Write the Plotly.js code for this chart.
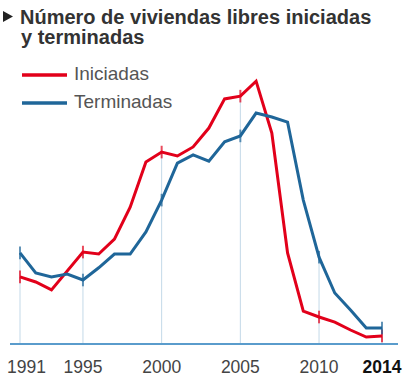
<!DOCTYPE html>
<html><head><meta charset="utf-8">
<script src="https://cdn.plot.ly/plotly-3.0.1.min.js"></script>
<style>html,body{margin:0;padding:0;background:#fff}#chart{width:414px;height:388px}</style>
</head><body><div id="chart"></div>
<script>
// Data (miles de viviendas)
const years = [1991,1992,1993,1994,1995,1996,1997,1998,1999,2000,2001,2002,2003,2004,2005,2006,2007,2008,2009,2010,2011,2012,2013,2014];
const iniciadas = [168,155,135,183,231,226,264,345,460,485,475,498,546,620,627,665,533,229,81,66,53,33,15,18];
const terminadas = [229,178,168,175,160,191,226,226,282,363,457,478,462,511,526,584,574,561,363,218,127,84,38,38];
const tickYears = [1991,1995,2000,2005,2010,2014];
const tickLabels = ['1991','1995','2000','2005','2010','2014'];
const titleLines = ['Número de viviendas libres iniciadas','y terminadas'];
const seriesNames = ['Iniciadas','Terminadas'];

const RED = '#e2001a', BLUE = '#1f6699', DROP = '#c3d9e8';
const W = 414, H = 388, M = {l:10, r:16, t:60, b:45};
const plotW = W - M.l - M.r, plotH = H - M.t - M.b;
const PX = px => (px - M.l) / plotW;
const PY = py => (H - M.b - py) / plotH;

// drop lines from baseline to the higher of the two series at labelled years
const dropX = [], dropY = [];
tickYears.forEach(yr => {
  const i = years.indexOf(yr);
  dropX.push(yr, yr, null);
  dropY.push(0, Math.max(iniciadas[i], terminadas[i]), null);
});
const mSize = years.map(y => tickYears.includes(y) ? 9 : 0);

const traces = [
  {x: dropX, y: dropY, mode: 'lines', line: {color: DROP, width: 1}, hoverinfo: 'skip', showlegend: false},
  {x: years, y: iniciadas, name: seriesNames[0], mode: 'lines+markers', line: {color: RED, width: 3},
   marker: {symbol: 'line-ns', size: mSize, line: {color: RED, width: 2}}, showlegend: false},
  {x: years, y: terminadas, name: seriesNames[1], mode: 'lines+markers', line: {color: BLUE, width: 3},
   marker: {symbol: 'line-ns', size: mSize, line: {color: BLUE, width: 2}}, showlegend: false}
];

const FAM = 'Liberation Sans, Arial, sans-serif';
const titleFont = {family: FAM, size: 20, color: '#333'};
const legendFont = {family: FAM, size: 19, color: '#555'};
const tickFont = {family: FAM, size: 17.5, color: '#444'};
// first label is drawn slightly right of its year (as in the original), the last one in bold
const ticktext = tickLabels.map((t, i) => i === 0 ? '' : (i === tickLabels.length - 1 ? '<b><span style="color:#111">' + t + '</span></b>' : t));

const layout = {
  width: W, height: H, margin: M,
  paper_bgcolor: '#fff', plot_bgcolor: '#fff',
  title: {text: '<b>' + titleLines[0] + '</b>', x: 20/W, xref: 'container', xanchor: 'left',
          y: 1 - 16.5/H, yref: 'container', yanchor: 'middle', font: titleFont},
  xaxis: {range: [1991 - (20 - M.l)/15.74, 2014 + (W - M.r - 382)/15.74], showgrid: false, zeroline: false,
          showline: true, linecolor: '#5a9ccc', linewidth: 2,
          tickmode: 'array', tickvals: tickYears, ticktext: ticktext, ticks: '',
          ticklabeloverflow: 'allow', ticklabelstandoff: 7, tickfont: tickFont},
  yaxis: {range: [0, plotH * 2.54], visible: false, fixedrange: true},
  showlegend: false,
  shapes: [
    {type: 'path', xref: 'paper', yref: 'paper',
     path: `M ${PX(3)},${PY(11)} L ${PX(13)},${PY(16.5)} L ${PX(3)},${PY(22)} Z`,
     fillcolor: '#222', line: {width: 0}},
    {type: 'line', xref: 'paper', yref: 'paper', x0: PX(22), x1: PX(67), y0: PY(75), y1: PY(75), line: {color: RED, width: 3.5}},
    {type: 'line', xref: 'paper', yref: 'paper', x0: PX(22), x1: PX(67), y0: PY(103), y1: PY(103), line: {color: BLUE, width: 3.5}}
  ],
  annotations: [
    {text: '<b>' + titleLines[1] + '</b>', xref: 'paper', yref: 'paper', x: PX(18.5), y: PY(36.5), xanchor: 'left', yanchor: 'middle',
     showarrow: false, font: titleFont},
    {text: seriesNames[0], xref: 'paper', yref: 'paper', x: PX(72), y: PY(73.5), xanchor: 'left', yanchor: 'middle', showarrow: false, font: legendFont},
    {text: seriesNames[1], xref: 'paper', yref: 'paper', x: PX(72), y: PY(101.5), xanchor: 'left', yanchor: 'middle', showarrow: false, font: legendFont},
    {text: tickLabels[0], xref: 'x', yref: 'paper', x: tickYears[0], xshift: 6.5, y: PY(366.5), xanchor: 'center', yanchor: 'middle',
     showarrow: false, font: tickFont}
  ]
};
Plotly.newPlot('chart', traces, layout, {displayModeBar: false, staticPlot: true});
</script></body></html>
